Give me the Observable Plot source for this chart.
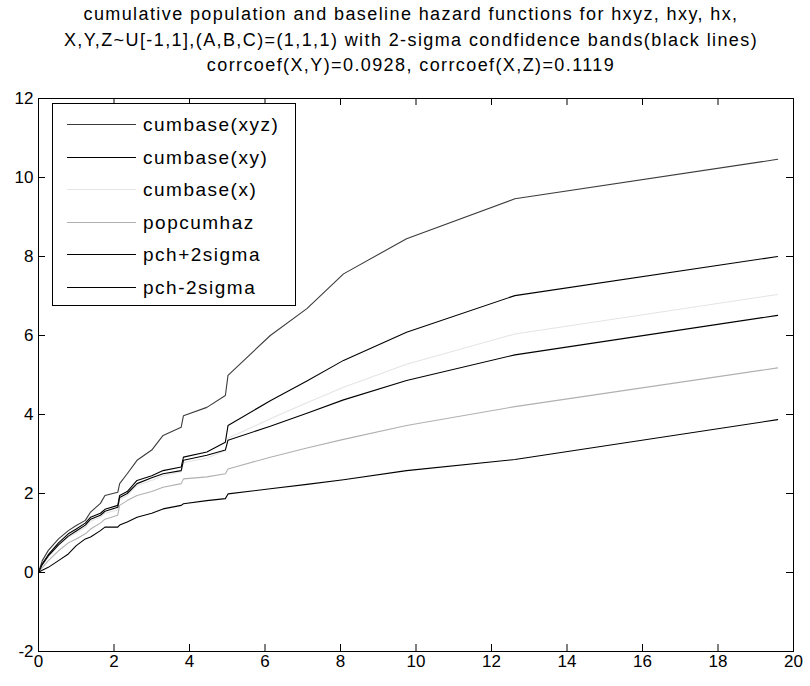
<!DOCTYPE html>
<html><head><meta charset="utf-8">
<script src="https://cdn.jsdelivr.net/npm/d3@7"></script>
<script src="https://cdn.jsdelivr.net/npm/@observablehq/plot@0.6"></script>
<style>
body{margin:0;background:#fff;}
#wrap{position:relative;width:810px;height:686px;font-family:"Liberation Sans",Arial,sans-serif;color:#000;}
#title{position:absolute;left:0;top:2px;width:822px;text-align:center;font-size:18px;line-height:25.5px;letter-spacing:1.4px;}
#legend{position:absolute;left:52px;top:103px;width:242px;height:201px;border:1px solid #000;background:#fff;}
</style></head>
<body><div id="wrap"><div id="chart"></div><div id="title"></div><div id="legend"></div></div>
<script>
const titleLines = [
  "cumulative population and baseline hazard functions for hxyz, hxy, hx,",
  "X,Y,Z~U[-1,1],(A,B,C)=(1,1,1) with 2-sigma condfidence bands(black lines)",
  "corrcoef(X,Y)=0.0928, corrcoef(X,Z)=0.1119"
];
const seriesNames = ["cumbase(xyz)", "cumbase(xy)", "cumbase(x)", "popcumhaz", "pch+2sigma", "pch-2sigma"];
const seriesColors = ["#3c3c3c", "#000000", "#e4e4e4", "#b0b0b0", "#000000", "#000000"];
const times = [0, 0.1, 0.26, 0.53, 0.79, 1.0, 1.24, 1.38, 1.64, 1.76, 2.1, 2.15, 2.35, 2.61, 3.0, 3.3, 3.78, 3.84, 4.46, 4.95, 5.02, 6.14, 7.11, 8.08, 9.75, 12.62, 19.58];
const cumbaseXYZ = [0, 0.3, 0.56, 0.85, 1.06, 1.19, 1.32, 1.53, 1.75, 1.95, 2.03, 2.25, 2.5, 2.84, 3.1, 3.47, 3.68, 3.97, 4.18, 4.48, 4.99, 6.0, 6.68, 7.56, 8.45, 9.46, 10.46];
const cumbaseXY = [0, 0.22, 0.45, 0.75, 0.98, 1.1, 1.25, 1.4, 1.5, 1.6, 1.7, 1.95, 2.05, 2.33, 2.45, 2.58, 2.67, 2.92, 3.05, 3.3, 3.72, 4.35, 4.85, 5.37, 6.08, 7.01, 8.0];
const cumbaseX = [0, 0.18, 0.4, 0.68, 0.9, 1.0, 1.15, 1.3, 1.4, 1.5, 1.58, 1.85, 1.95, 2.2, 2.33, 2.45, 2.55, 2.78, 2.9, 3.08, 3.4, 3.89, 4.3, 4.69, 5.27, 6.04, 7.04];
const popcumhaz = [0, 0.12, 0.3, 0.55, 0.75, 0.85, 0.98, 1.1, 1.25, 1.35, 1.45, 1.7, 1.82, 1.95, 2.05, 2.16, 2.25, 2.37, 2.42, 2.5, 2.62, 2.92, 3.15, 3.37, 3.72, 4.2, 5.18];
const pchPlus = [0, 0.2, 0.42, 0.7, 0.92, 1.05, 1.2, 1.35, 1.45, 1.55, 1.65, 1.9, 2.0, 2.25, 2.4, 2.5, 2.58, 2.84, 2.97, 3.1, 3.35, 3.7, 4.03, 4.37, 4.86, 5.51, 6.51];
const pchMinus = [0, 0.06, 0.13, 0.3, 0.47, 0.68, 0.85, 0.9, 1.06, 1.15, 1.15, 1.2, 1.28, 1.4, 1.5, 1.61, 1.7, 1.74, 1.82, 1.87, 1.99, 2.12, 2.23, 2.35, 2.58, 2.86, 3.87];
const xTicks = [0, 2, 4, 6, 8, 10, 12, 14, 16, 18, 20];
const yTicks = [-2, 0, 2, 4, 6, 8, 10, 12];

const seriesValues = [cumbaseXYZ, cumbaseXY, cumbaseX, popcumhaz, pchPlus, pchMinus];
const rows = [];
seriesValues.forEach((vals, i) => vals.forEach((v, j) => rows.push({t: times[j], v, s: seriesNames[i]})));

const W = 810, H = 686, mL = 38, mR = 17, mT = 98, mB = 35;
const pw = W - mL - mR, ph = H - mT - mB, tk = 7;
const font = '"Liberation Sans", Arial, sans-serif';

const chart = Plot.plot({
  width: W, height: H, marginLeft: mL, marginRight: mR, marginTop: mT, marginBottom: mB,
  style: {fontFamily: font, fontSize: "17px", color: "#000", background: "#fff"},
  x: {domain: [0, 20]},
  y: {domain: [-2, 12]},
  color: {domain: seriesNames, range: seriesColors},
  marks: [
    Plot.line(rows, {x: "t", y: "v", z: "s", stroke: "s", strokeWidth: 1.1}),
    Plot.tickX(xTicks, {x: d => d, insetTop: ph - tk, stroke: "#000"}),
    Plot.tickX(xTicks, {x: d => d, insetBottom: ph - tk, stroke: "#000"}),
    Plot.tickY(yTicks, {y: d => d, insetRight: pw - tk, stroke: "#000"}),
    Plot.tickY(yTicks, {y: d => d, insetLeft: pw - tk, stroke: "#000"}),
    Plot.axisX({ticks: xTicks, tickSize: 0, tickPadding: 3, label: null, tickFormat: d => String(d)}),
    Plot.axisY({ticks: yTicks, tickSize: 0, tickPadding: 5, label: null, tickFormat: d => String(d)}),
    Plot.frame({stroke: "#000"})
  ]
});
document.getElementById("chart").appendChild(chart);

d3.select("#title").selectAll("div").data(titleLines).join("div").text(d => d);

const lg = d3.select("#legend").append("svg").attr("width", 242).attr("height", 201)
  .style("font-family", font).style("font-size", "19px");
seriesNames.forEach((n, i) => {
  const y = Math.round(20 + i * 32.5) + 0.5;
  lg.append("line").attr("x1", 14).attr("x2", 83).attr("y1", y).attr("y2", y)
    .attr("stroke", seriesColors[i]).attr("stroke-width", 1);
  lg.append("text").attr("x", 90).attr("y", y).attr("dy", "0.35em")
    .attr("letter-spacing", "1.5px").text(n);
});
</script>
</body></html>
